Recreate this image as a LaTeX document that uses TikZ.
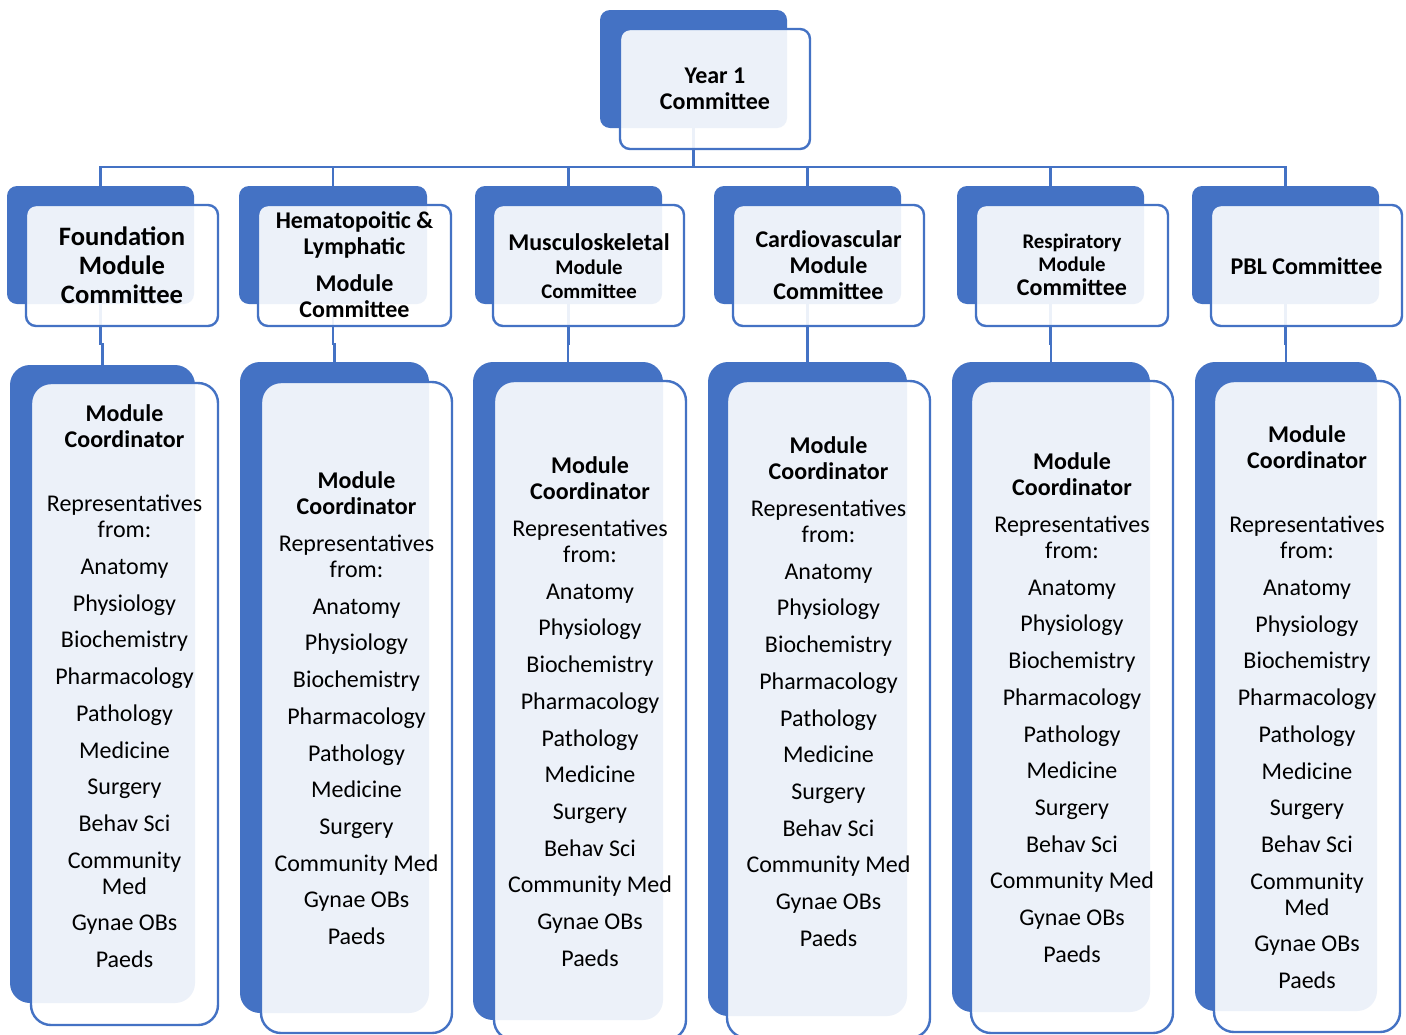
\documentclass[tikz,border=0pt]{standalone}
\usepackage{fontspec}
\setmainfont{Carlito}
\usetikzlibrary{fit,backgrounds}
\definecolor{myblue}{HTML}{4472C4}
\newcommand\pbrk{\\[10.7pt]}
\begin{document}
\begin{tikzpicture}[x=1pt,y=-1pt,
  back/.style={fill=myblue, draw=none, inner sep=0pt, outer sep=0pt, rounded corners=#1},
  back/.default=10pt,
  front/.style={fill=white, fill opacity=0.9, draw=myblue, draw opacity=1, line width=2.4pt, inner sep=0pt, outer sep=0pt, rounded corners=#1},
  front/.default=10pt,
  link/.style={draw=myblue, line width=2.4pt},
  lbl/.style={inner sep=0pt, outer sep=0pt, align=center, text=black, anchor=north, font=\fontsize{24}{26}\selectfont},
  hlbl/.style={lbl, font=\fontsize{24}{26}\selectfont\bfseries},
]
\useasboundingbox (0,0) rectangle (1406,1034);

% top box
\node[back, fit={(600,10) (787,128)}] (b0) {};
\node[front, fit={(620,29) (810,149)}] (f0) {};

% level 2
\node[back, fit={(7,186) (194,304)}] (m1) {};
\node[front, fit={(26,205) (218,326)}] (g1) {};
\node[back, fit={(239,186) (427,304)}] (m2) {};
\node[front, fit={(258,205) (451,326)}] (g2) {};
\node[back, fit={(475,186) (662,304)}] (m3) {};
\node[front, fit={(493,205) (684,326)}] (g3) {};
\node[back, fit={(714,186) (901,304)}] (m4) {};
\node[front, fit={(733,205) (924,326)}] (g4) {};
\node[back, fit={(957,186) (1144,304)}] (m5) {};
\node[front, fit={(976,205) (1168,326)}] (g5) {};
\node[back, fit={(1192,186) (1379,304)}] (m6) {};
\node[front, fit={(1211,205) (1402,326)}] (g6) {};

% level 3
\node[back=20pt, fit={(10,365) (195,1003)}] (c1) {};
\node[front=20pt, fit={(31,383) (218,1025)}] (d1) {};
\node[back=20pt, fit={(240,362) (429,1013)}] (c2) {};
\node[front=20pt, fit={(261,382) (452,1033)}] (d2) {};
\node[back=20pt, fit={(473,362) (663,1020)}] (c3) {};
\node[front=20pt, fit={(494,381) (686,1040)}] (d3) {};
\node[back=20pt, fit={(708,362) (907,1016)}] (c4) {};
\node[front=20pt, fit={(727,381) (930,1038)}] (d4) {};
\node[back=20pt, fit={(952,362) (1150,1012)}] (c5) {};
\node[front=20pt, fit={(971,381) (1173,1033)}] (d5) {};
\node[back=20pt, fit={(1195,362) (1377,1011)}] (c6) {};
\node[front=20pt, fit={(1214,381) (1400,1032)}] (d6) {};

% texts
\node[hlbl] (t0) at (715,68) {Year 1\\Committee};
\node[lbl, font=\fontsize{26.6}{29}\selectfont\bfseries] (t1) at (122,227) {Foundation\\Module\\Committee};
\node[hlbl] (t2) at (354.5,212) {Hematopoitic \&\\Lymphatic\\[11pt]Module\\Committee};
\node[lbl, font=\fontsize{20.8}{24}\selectfont\bfseries] (t3) at (589,234) {{\fontsize{24}{24}\selectfont Musculoskeletal}\\Module\\Committee};
\node[hlbl] (t4) at (828.5,231) {Cardiovascular\\Module\\Committee};
\node[lbl, font=\fontsize{20.8}{23}\selectfont\bfseries] (t5) at (1072,234) {Respiratory\\Module\\[1pt]{\fontsize{24}{24}\selectfont Committee}};
\node[hlbl] (t6) at (1306.5,258) {PBL Committee};

\node[lbl] (u1) at (124.5,405) {\textbf{Module}\\\textbf{Coordinator}\\[38pt]Representatives\\from:\pbrk Anatomy\pbrk Physiology\pbrk Biochemistry\pbrk Pharmacology\pbrk Pathology\pbrk Medicine\pbrk Surgery\pbrk Behav Sci\pbrk Community\\Med\pbrk Gynae OBs\pbrk Paeds};
\node[lbl] (u2) at (356.5,472) {\textbf{Module}\\\textbf{Coordinator}\pbrk Representatives\\from:\pbrk Anatomy\pbrk Physiology\pbrk Biochemistry\pbrk Pharmacology\pbrk Pathology\pbrk Medicine\pbrk Surgery\pbrk Community Med\pbrk Gynae OBs\pbrk Paeds};
\node[lbl] (u3) at (590,457) {\textbf{Module}\\\textbf{Coordinator}\pbrk Representatives\\from:\pbrk Anatomy\pbrk Physiology\pbrk Biochemistry\pbrk Pharmacology\pbrk Pathology\pbrk Medicine\pbrk Surgery\pbrk Behav Sci\pbrk Community Med\pbrk Gynae OBs\pbrk Paeds};
\node[lbl] (u4) at (828.5,437) {\textbf{Module}\\\textbf{Coordinator}\pbrk Representatives\\from:\pbrk Anatomy\pbrk Physiology\pbrk Biochemistry\pbrk Pharmacology\pbrk Pathology\pbrk Medicine\pbrk Surgery\pbrk Behav Sci\pbrk Community Med\pbrk Gynae OBs\pbrk Paeds};
\node[lbl] (u5) at (1072,453) {\textbf{Module}\\\textbf{Coordinator}\pbrk Representatives\\from:\pbrk Anatomy\pbrk Physiology\pbrk Biochemistry\pbrk Pharmacology\pbrk Pathology\pbrk Medicine\pbrk Surgery\pbrk Behav Sci\pbrk Community Med\pbrk Gynae OBs\pbrk Paeds};
\node[lbl] (u6) at (1307,426) {\textbf{Module}\\\textbf{Coordinator}\\[38pt]Representatives\\from:\pbrk Anatomy\pbrk Physiology\pbrk Biochemistry\pbrk Pharmacology\pbrk Pathology\pbrk Medicine\pbrk Surgery\pbrk Behav Sci\pbrk Community\\Med\pbrk Gynae OBs\pbrk Paeds};

\coordinate (bus) at (0,167);
\coordinate (jog) at (0,344);
\begin{pgfonlayer}{background}
\fill[white] (0,0) rectangle (1406,1034);
\foreach \i in {1,...,6}{
  \draw[link] (b0.south) -- (b0.south |- bus) -| (m\i.north);
  \draw[link] (m\i.south) -- (m\i.south |- jog) -| (c\i.north);
}
\end{pgfonlayer}
\end{tikzpicture}
\end{document}
